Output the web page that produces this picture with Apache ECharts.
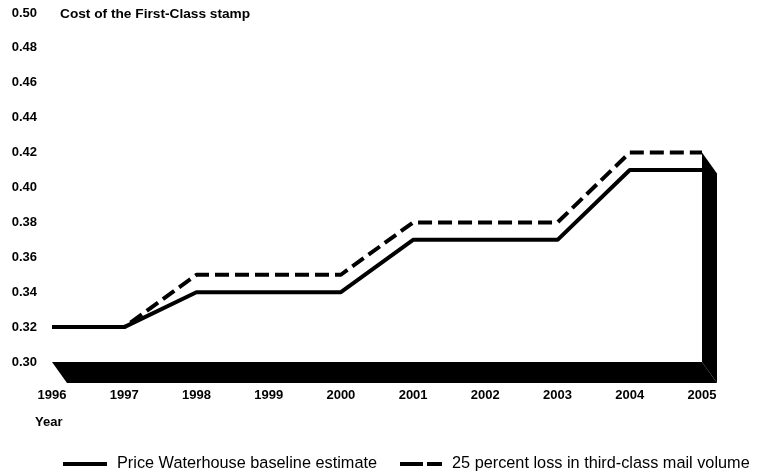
<!DOCTYPE html>
<html>
<head>
<meta charset="utf-8">
<script src="https://cdn.jsdelivr.net/npm/echarts@6/dist/echarts.min.js"></script>
<style>
html, body { margin: 0; padding: 0; background: #fff; }
#chart { width: 760px; height: 473px; }
</style>
</head>
<body>
<div id="chart"></div>
<script>
// Years on the horizontal axis
var years = ['1996', '1997', '1998', '1999', '2000', '2001', '2002', '2003', '2004', '2005'];
// Stamp price, baseline estimate (dollars)
var baseline = [0.32, 0.32, 0.34, 0.34, 0.34, 0.37, 0.37, 0.37, 0.41, 0.41];
// Stamp price with a 25 percent loss in third-class volume (dollars)
var thirdClassLoss = [0.32, 0.32, 0.35, 0.35, 0.35, 0.38, 0.38, 0.38, 0.42, 0.42];
// Value range of the price axis
var yMin = 0.30, yMax = 0.50, yStep = 0.02;
// Height reached by the back wall of the 3-D frame
var wallTop = 0.42;

var NAME_BASE = 'Price Waterhouse baseline estimate';
var NAME_LOSS = '25 percent loss in third-class mail volume';
var FONT = 'Liberation Sans, Arial, sans-serif';
var chart = echarts.init(document.getElementById('chart'), null, { renderer: 'canvas' });

// Extruded floor and right wall, placed through the axes
function renderFrame(params, api) {
  var last = years.length - 1;
  var p0 = api.coord([0, yMin]);
  var p1 = api.coord([last, yMin]);
  var pt = api.coord([last, wallTop]);
  var dx = 15, dy = 21;
  return {
    type: 'group',
    children: [
      {
        type: 'polygon',
        shape: { points: [[p0[0], p0[1]], [p1[0], p1[1]], [p1[0] + dx, p1[1] + dy], [p0[0] + dx, p0[1] + dy]] },
        style: { fill: '#000' }
      },
      {
        type: 'polygon',
        shape: { points: [[p1[0], p1[1]], [pt[0], pt[1]], [pt[0] + dx, pt[1] + dy], [p1[0] + dx, p1[1] + dy]] },
        style: { fill: '#000' }
      }
    ]
  };
}

var legendText = { fontFamily: FONT, fontSize: 16.3, color: '#000', padding: [0, 0, 0, 5] };

chart.setOption({
  animation: false,
  backgroundColor: '#fff',
  grid: { left: 52, right: 58, top: 13, bottom: 111 },
  title: {
    text: 'Cost of the First-Class stamp',
    left: 55, top: 2,
    textStyle: { fontFamily: FONT, fontSize: 13.7, fontWeight: 'bold', color: '#000' }
  },
  graphic: [{
    type: 'text', left: 35, top: 416,
    style: { text: 'Year', font: 'bold 13px ' + FONT, fill: '#000' }
  }],
  legend: [
    {
      left: 58, top: 451,
      itemWidth: 44, itemHeight: 4,
      icon: 'path://M0,0H44V4H0Z',
      textStyle: legendText,
      data: [NAME_BASE]
    },
    {
      left: 395, top: 451,
      itemWidth: 42, itemHeight: 4,
      icon: 'path://M0,0H23V4H0Z M27,0H42V4H27Z',
      textStyle: legendText,
      data: [NAME_LOSS]
    }
  ],
  xAxis: {
    type: 'category',
    data: years,
    boundaryGap: false,
    axisLine: { show: false },
    axisTick: { show: false },
    splitLine: { show: false },
    axisLabel: { margin: 27, fontFamily: FONT, fontSize: 13, fontWeight: 'bold', color: '#000' }
  },
  yAxis: {
    type: 'value',
    min: yMin, max: yMax, interval: yStep,
    axisLine: { show: false },
    axisTick: { show: false },
    splitLine: { show: false },
    axisLabel: {
      margin: 15, fontFamily: FONT, fontSize: 13, fontWeight: 'bold', color: '#000',
      formatter: function (v) { return v.toFixed(2); }
    }
  },
  series: [
    {
      type: 'custom',
      renderItem: renderFrame,
      data: [0],
      silent: true,
      z: 1
    },
    {
      name: NAME_BASE,
      type: 'line',
      data: baseline,
      symbol: 'none',
      lineStyle: { color: '#000', width: 4, type: 'solid' },
      itemStyle: { color: '#000' },
      z: 3
    },
    {
      name: NAME_LOSS,
      type: 'line',
      data: thirdClassLoss,
      symbol: 'none',
      lineStyle: { color: '#000', width: 4, type: [14, 6] },
      itemStyle: { color: '#000' },
      z: 3
    }
  ]
});
</script>
</body>
</html>
